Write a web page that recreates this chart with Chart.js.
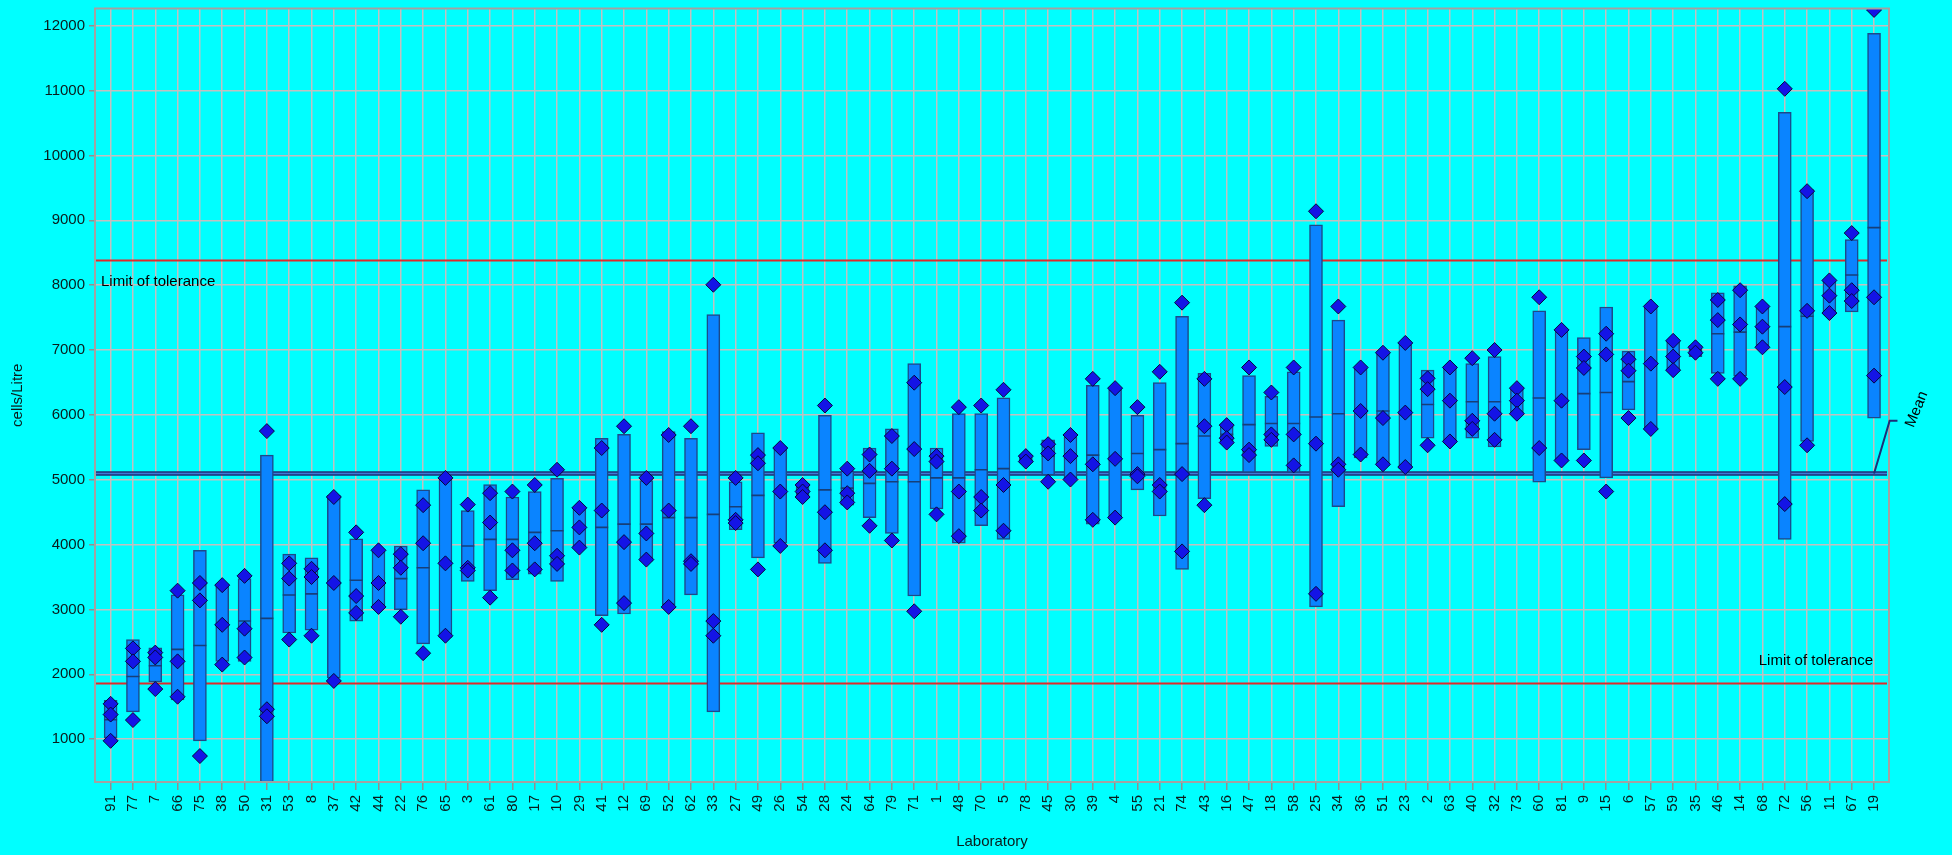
<!DOCTYPE html>
<html>
<head>
<meta charset="utf-8">
<script src="https://cdn.jsdelivr.net/npm/chart.js@4"></script>
<style>
  html, body { margin: 0; padding: 0; background: #00ffff; }
  #wrap { width: 1952px; height: 855px; }
</style>
</head>
<body>
<div id="wrap"><canvas id="chart"></canvas></div>
<script>
// laboratories in plotted order
const labs = ["91","77","7","66","75","38","50","31","53","8","37","42","44","22","76","65","3","61","80","17",
  "10","29","41","12","69","52","62","33","27","49","26","54","28","24","64","79","71","1","48","70",
  "5","78","45","30","39","4","55","21","74","43","16","47","18","58","25","34","36","51","23","2",
  "63","40","32","73","60","81","9","15","6","57","59","35","46","14","68","72","56","11","67","19"];

// box bottom / top / median (cells/Litre)
const lows = [1020,1420,1882,1605,975,2200,2200,340,2637,2679,1940,2821,3039,2998,2469,2570,3434,3291,3459,3543,
  3434,3954,2905,2930,3744,3073,3224,1420,4231,3795,4021,4734,3711,4608,4416,4172,3207,4550,4021,4290,
  4080,5263,5070,5003,4315,4399,4843,4441,3618,4709,5557,5112,5514,5112,3039,4583,5338,5221,5171,5640,
  5590,5640,5506,6018,4961,5297,5464,5028,6077,5800,6689,6899,6639,6597,7067,4080,5590,7587,7587,5951];
const highs = [1600,2536,2410,3224,3912,3392,3476,5380,3853,3795,4759,4088,3895,3979,4843,5011,4524,4927,4734,4818,
  5020,4583,5640,5699,4986,5741,5640,7545,4969,5724,5506,4944,5992,5137,5489,5783,6790,5489,6018,6018,
  6261,5347,5615,5657,6454,6387,5992,6496,7520,6639,5842,6605,6286,6664,8929,7461,6723,6941,7084,6689,
  6748,6790,6899,6396,7604,7293,7193,7663,6983,7663,7125,7067,7880,7990,7663,10666,9475,8073,8703,11883];
const medians = [1300,1966,2133,2385,2444,2763,2821,2863,3224,3241,3408,3450,3408,3476,3643,3711,3979,4080,4080,4189,
  4214,4265,4265,4315,4315,4416,4416,4466,4583,4759,4818,4830,4843,4870,4944,4969,4969,5028,5028,5154,
  5171,5300,5364,5364,5380,5338,5405,5464,5556,5674,5700,5850,5867,5867,5968,6018,6060,6060,6018,6161,
  6219,6202,6202,6219,6261,6219,6328,6345,6513,6790,6899,6980,7251,7276,7360,7360,7520,7838,8157,8887];

// individual results (diamonds)
const results = [
  [1545,1380,975],[2400,2200,1295],[2335,2260,1773],[3290,2200,1655],[3408,3140,740],
  [3375,2763,2150],[3518,2704,2259],[5750,1462,1353],[3711,3476,2536],[3627,3500,2595],
  [4734,3408,1898],[4189,3207,2947],[3912,3408,3039],[3853,3643,2888],[4608,4021,2326],
  [5028,3711,2595],[4617,3643,3600],[4793,4340,3182],[4818,3912,3601],[4919,4021,3618],
  [5154,3828,3702],[4567,4265,3954],[5489,4525,2763],[5825,4038,3098],[5028,4172,3769],
  [5690,4525,3039],[5825,3744,3702],[8006,2821,2595],[5028,4382,4332],[5380,5254,3618],
  [5489,4818,3979],[4919,4818,4734],[6144,4499,3912],[5171,4793,4650],[5389,5137,4290],
  [5674,5171,4063],[6496,5473,2972],[5364,5280,4466],[6119,4818,4130],[6144,4734,4525],
  [6387,4919,4214],[5364,5280],[5548,5405,4969],[5690,5364,5003],[6555,5238,4382],
  [6412,5322,4416],[6119,5087,5053],[6664,4919,4818],[7730,5087,3895],[6555,5825,4608],
  [5842,5641,5573],[6731,5464,5380],[6345,5699,5615],[6731,5699,5221],[9139,5556,3241],
  [7671,5238,5154],[6731,6060,5389],[6958,5951,5238],[7109,6035,5196],[6563,6396,5531],
  [6731,6219,5590],[6874,5909,5783],[7000,6018,5615],[6412,6219,6018],[7813,5489],
  [7310,6219,5297],[6899,6723,5297],[7251,6932,4818],[6857,6681,5951],[7671,6790,5783],
  [7142,6899,6689],[7042,6958],[7771,7461,6555],[7922,7394,6555],[7671,7360,7042],
  [11027,6429,4625],[9449,7604,5531],[8073,7838,7570],[8803,7922,7755],[12243,7813,6605]
];

const yTicks = [1000,2000,3000,4000,5000,6000,7000,8000,9000,10000,11000,12000];
const meanValue = 5095;
const upperLimit = 8392;
const lowerLimit = 1866;
const meanTag = 5909;

const FONT = '"Liberation Sans", Arial, sans-serif';
const TEXT = '#0a1c1c';

const boxes = labs.map((l, i) => ({ x: i, y: [lows[i], highs[i]] }));
const medPts = labs.map((l, i) => ({ x: i, y: medians[i] }));
const dots = [];
results.forEach((arr, i) => arr.forEach(v => dots.push({ x: i, y: v })));

const refLines = {
  id: 'refLines',
  beforeDatasetsDraw(chart) {
    const { ctx, chartArea: a, scales: { y } } = chart;
    ctx.save();
    ctx.beginPath();
    ctx.rect(a.left, a.top, a.width, a.height);
    ctx.clip();
    ctx.lineWidth = 2;
    ctx.strokeStyle = '#e02a2a';
    [upperLimit, lowerLimit].forEach(v => {
      const py = Math.round(y.getPixelForValue(v)) + 0.5;
      ctx.beginPath(); ctx.moveTo(a.left, py); ctx.lineTo(a.right - 2, py); ctx.stroke();
    });
    const my = y.getPixelForValue(meanValue);
    ctx.strokeStyle = '#1c2f78'; ctx.lineWidth = 4.5;
    ctx.beginPath(); ctx.moveTo(a.left, my); ctx.lineTo(a.right - 2, my); ctx.stroke();
    ctx.strokeStyle = '#3d7bd6'; ctx.lineWidth = 1.5;
    ctx.beginPath(); ctx.moveTo(a.left, my); ctx.lineTo(a.right - 2, my); ctx.stroke();
    ctx.restore();
  },
  afterDatasetsDraw(chart) {
    const { ctx, chartArea: a, scales: { x, y } } = chart;
    ctx.save();
    // plot frame
    ctx.strokeStyle = '#a2a2a2';
    ctx.lineWidth = 2;
    ctx.strokeRect(a.left, a.top, a.width, a.height);
    // tolerance labels
    ctx.fillStyle = '#000';
    ctx.font = '15px ' + FONT;
    ctx.textBaseline = 'middle';
    ctx.textAlign = 'left';
    ctx.fillText('Limit of tolerance', a.left + 6, y.getPixelForValue(upperLimit) + 22);
    ctx.textAlign = 'right';
    ctx.fillText('Limit of tolerance', a.right - 16, y.getPixelForValue(lowerLimit) - 22);
    // mean tag
    const last = labs.length - 1;
    ctx.strokeStyle = '#1c2f78';
    ctx.lineWidth = 2;
    ctx.beginPath();
    ctx.moveTo(x.getPixelForValue(last), y.getPixelForValue(meanValue));
    ctx.lineTo(x.getPixelForValue(last + 0.7), y.getPixelForValue(meanTag));
    ctx.lineTo(x.getPixelForValue(last + 1.05), y.getPixelForValue(meanTag));
    ctx.stroke();
    ctx.translate(x.getPixelForValue(last + 1.6), y.getPixelForValue(meanTag) + 6);
    ctx.rotate(-68 * Math.PI / 180);
    ctx.textAlign = 'left';
    ctx.fillText('Mean', 0, 0);
    ctx.restore();
  }
};

new Chart(document.getElementById('chart'), {
  type: 'bar',
  data: {
    datasets: [
      {
        type: 'scatter', data: dots, order: 0,
        pointStyle: 'rectRot', pointRadius: 7.5, pointHoverRadius: 7.5,
        backgroundColor: '#1414e6', borderColor: '#06063a', borderWidth: 1
      },
      {
        type: 'scatter', data: medPts, order: 1,
        pointStyle: 'line', pointRadius: 6.5, pointHoverRadius: 6.5,
        borderColor: '#163f78', borderWidth: 1.6
      },
      {
        type: 'bar', data: boxes, order: 2,
        backgroundColor: '#0a84ff', borderColor: '#1c4a88', borderWidth: 1.5,
        borderSkipped: false, barThickness: 13
      }
    ]
  },
  options: {
    responsive: true,
    maintainAspectRatio: false,
    animation: false,
    events: [],
    layout: { padding: { top: 7, right: 63, left: 0, bottom: 0 } },
    plugins: { legend: { display: false }, tooltip: { enabled: false } },
    scales: {
      x: {
        type: 'linear',
        offset: false,
        min: -0.7,
        max: labs.length - 1 + 0.67,
        afterFit(s) { s.height = 73; s.paddingLeft = 0; s.paddingRight = 0; },
        afterBuildTicks(s) { s.ticks = labs.map((l, i) => ({ value: i })); },
        grid: { offset: false, color: '#c3c0c0', lineWidth: 1.5, tickLength: 8, tickColor: '#909090' },
        border: { color: '#a2a2a2', width: 2 },
        ticks: {
          autoSkip: false, minRotation: 90, maxRotation: 90, padding: 5,
          color: TEXT, font: { family: FONT, size: 15 },
          callback: v => labs[v]
        },
        title: {
          display: true, text: 'Laboratory', color: TEXT,
          font: { family: FONT, size: 15 }, padding: { top: 0, bottom: 4 }
        }
      },
      y: {
        min: 340,
        max: 12265,
        afterFit(s) { s.width = 95; s.paddingTop = 0; s.paddingBottom = 0; },
        afterBuildTicks(s) { s.ticks = yTicks.map(v => ({ value: v })); },
        grid: { color: '#c3c0c0', lineWidth: 1.5, tickLength: 6, tickColor: '#909090' },
        border: { color: '#a2a2a2', width: 2 },
        ticks: { padding: 4, color: TEXT, font: { family: FONT, size: 15 }, callback: v => String(v) },
        title: {
          display: true, text: 'cells/Litre', color: TEXT,
          font: { family: FONT, size: 15 }, padding: { top: 9, bottom: 0 }
        }
      }
    }
  },
  plugins: [refLines]
});
</script>
</body>
</html>
